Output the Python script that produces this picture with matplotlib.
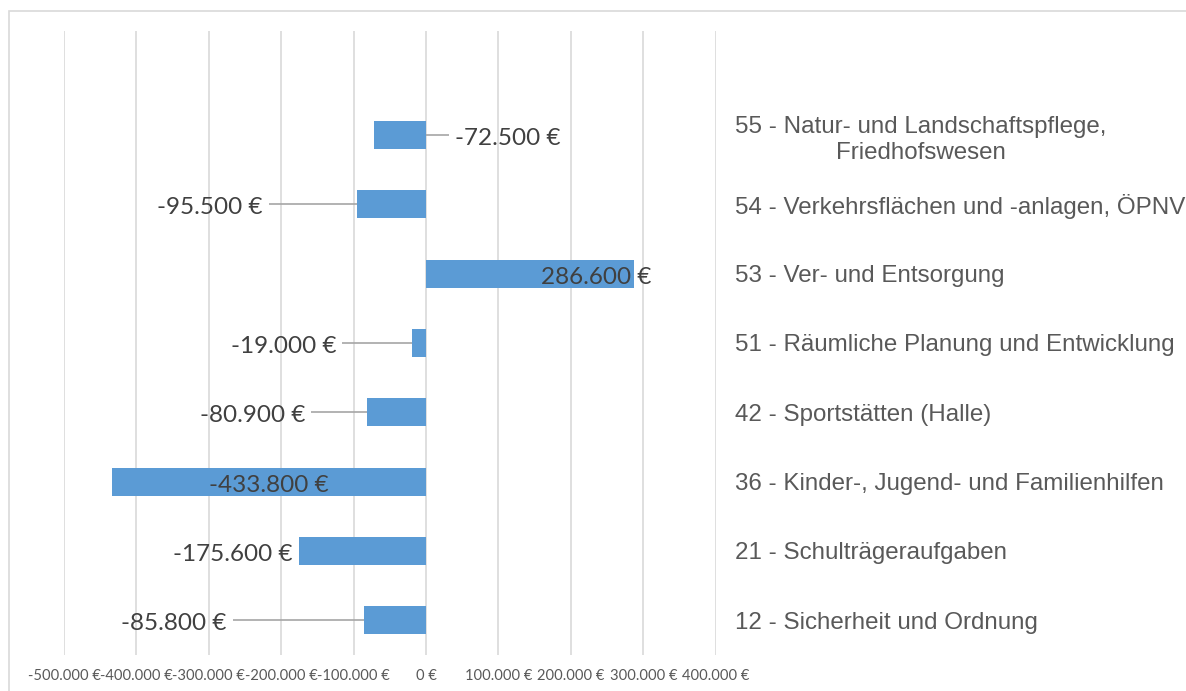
import matplotlib
matplotlib.use("Agg")
import matplotlib.pyplot as plt
from matplotlib.patches import Rectangle

# ---------------- data ----------------
categories = [
    "12 - Sicherheit und Ordnung",
    "21 - Schulträgeraufgaben",
    "36 - Kinder-, Jugend- und Familienhilfen",
    "42 - Sportstätten (Halle)",
    "51 - Räumliche Planung und Entwicklung",
    "53 - Ver- und Entsorgung",
    "54 - Verkehrsflächen und -anlagen, ÖPNV",
    "55 - Natur- und Landschaftspflege,\nFriedhofswesen",
]
values = [-85800, -175600, -433800, -80900, -19000, 286600, -95500, -72500]
x_ticks = [-500000, -400000, -300000, -200000, -100000, 0,
           100000, 200000, 300000, 400000]

# label placement (data x of label centre; None = centre of bar) and leader flag
label_x = [-348000, -267000, None, -240000, -197000, 235500, -298500, 113000]
leader = [True, False, False, True, True, False, True, True]


def eur(v):
    s = f"{abs(int(v)):,}".replace(",", ".")
    return ("-" if v < 0 else "") + s + " €"


BAR = "#5b9bd5"
GRID = "#d9d9d9"
TXT = "#404040"
TICK = "#595959"

W, H = 1186, 691
fig = plt.figure(figsize=(W / 100, H / 100), dpi=100)
left = 64 / W
right = 715.7 / W
bottom = 1 - 655 / H
top = 1 - 31 / H
ax = fig.add_axes([left, bottom, right - left, top - bottom])

ypos = list(range(len(categories)))
ax.barh(ypos, values, height=0.40, color=BAR, zorder=3)

ax.set_xlim(-500000, 400000)
ax.set_ylim(-0.5, 8.5)
ax.set_xticks(x_ticks)
ax.set_xticklabels([eur(t) for t in x_ticks], fontfamily="Lato",
                   fontsize=10.6, color=TICK)
ax.tick_params(axis="x", length=0, pad=10)

ax.yaxis.tick_right()
ax.set_yticks(ypos)
ax.set_yticklabels(categories, fontfamily="Liberation Sans", fontsize=17.4,
                   color=TICK, linespacing=1.28)
ax.tick_params(axis="y", length=0, pad=14)
for t in ax.get_yticklabels():
    t.set_multialignment("center")
    t.set_horizontalalignment("left")

for s in ax.spines.values():
    s.set_visible(False)
ax.grid(axis="x", color=GRID, lw=1.2, zorder=0)
ax.grid(axis="y", visible=False)

texts = []
for i, v in enumerate(values):
    lx = v / 2 if label_x[i] is None else label_x[i]
    t = ax.annotate(eur(v), (lx, i), xytext=(0, -2.5),
                    textcoords="offset points", ha="center", va="center",
                    fontfamily="Lato", fontsize=17.5, color=TXT, zorder=4)
    texts.append(t)

fig.canvas.draw()
r = fig.canvas.get_renderer()
inv = ax.transData.inverted()
for i, v in enumerate(values):
    if not leader[i]:
        continue
    bb = texts[i].get_window_extent(renderer=r)
    x0 = inv.transform((bb.x0, 0))[0]
    x1 = inv.transform((bb.x1, 0))[0]
    gap = 6 / 72.2 * 100000
    bmin, bmax = min(v, 0), max(v, 0)
    if x1 < bmin:
        xs = [x1 + gap, bmin]
    else:
        xs = [x0 - gap, bmax]
    ax.plot(xs, [i, i], color="#a6a6a6", lw=1.2, zorder=2,
            solid_capstyle="butt")

fig.add_artist(Rectangle((9 / W, -0.2), 2, (H - 11) / H + 0.2, fill=False,
                         edgecolor=GRID, lw=1.2, transform=fig.transFigure,
                         clip_on=False))

fig.savefig("out.png", dpi=100)
